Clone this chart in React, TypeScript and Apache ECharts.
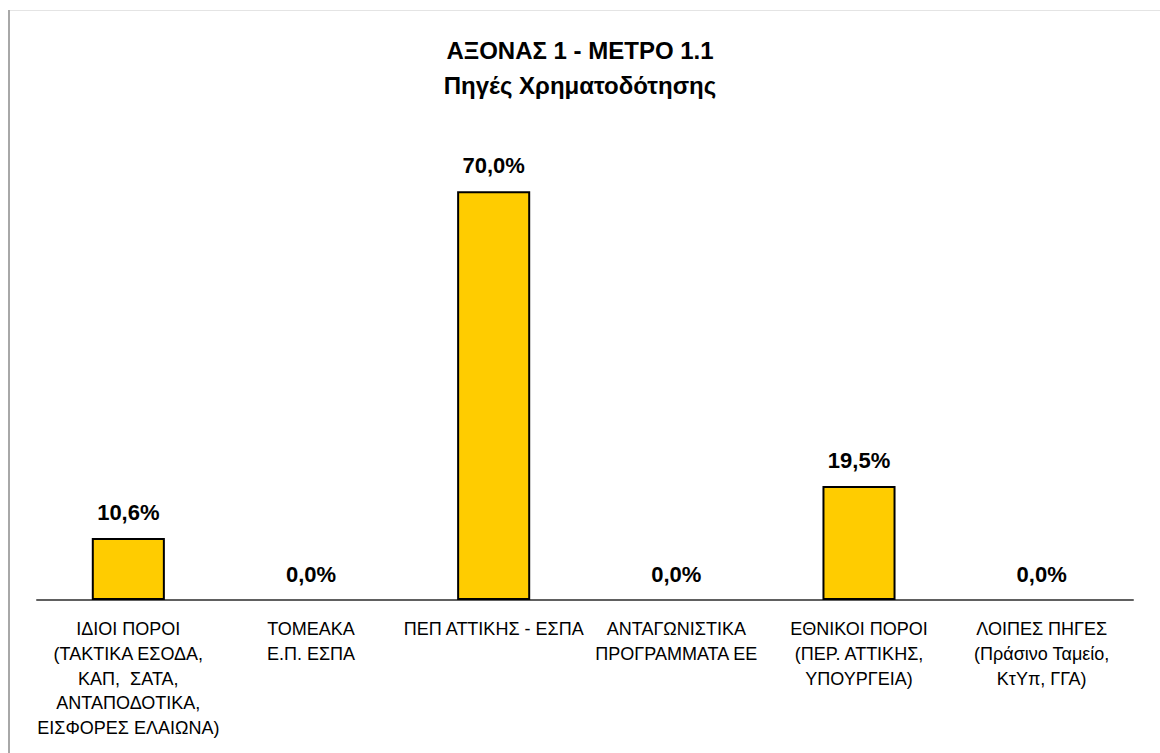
import React, { useEffect, useRef } from "react";
import * as echarts from "echarts";

const categories = [
  "ΙΔΙΟΙ ΠΟΡΟΙ\n(ΤΑΚΤΙΚΑ ΕΣΟΔΑ,\nΚΑΠ,  ΣΑΤΑ,\nΑΝΤΑΠΟΔΟΤΙΚΑ,\nΕΙΣΦΟΡΕΣ ΕΛΑΙΩΝΑ)",
  "ΤΟΜΕΑΚΑ\nΕ.Π. ΕΣΠΑ",
  "ΠΕΠ ΑΤΤΙΚΗΣ - ΕΣΠΑ",
  "ΑΝΤΑΓΩΝΙΣΤΙΚΑ\nΠΡΟΓΡΑΜΜΑΤΑ ΕΕ",
  "ΕΘΝΙΚΟΙ ΠΟΡΟΙ\n(ΠΕΡ. ΑΤΤΙΚΗΣ,\nΥΠΟΥΡΓΕΙΑ)",
  "ΛΟΙΠΕΣ ΠΗΓΕΣ\n(Πράσινο Ταμείο,\nΚτΥπ, ΓΓΑ)",
];
const values = [10.6, 0.0, 70.0, 0.0, 19.5, 0.0];
const titleLines = ["ΑΞΟΝΑΣ 1 - ΜΕΤΡΟ 1.1", "Πηγές Χρηματοδότησης"];

const FONT = "'Liberation Sans', 'Noto Sans', sans-serif";

export default function App() {
  const ref = useRef<HTMLDivElement>(null);
  useEffect(() => {
    if (!ref.current) return;
    const chart = echarts.init(ref.current, undefined, { renderer: "svg" });
    chart.setOption({
      animation: false,
      backgroundColor: "#ffffff",
      title: {
        text: titleLines.join("\n"),
        left: "center",
        top: 28,
        textStyle: {
          fontFamily: FONT,
          fontSize: 24,
          fontWeight: "bold",
          color: "#000000",
          lineHeight: 35,
        },
      },
      graphic: [
        {
          type: "line",
          shape: { x1: 8, y1: 10.5, x2: 1160, y2: 10.5 },
          style: { stroke: "#e4e4e4", lineWidth: 1 },
        },
        {
          type: "line",
          shape: { x1: 9, y1: 10, x2: 9, y2: 753 },
          style: { stroke: "#a8a8a8", lineWidth: 2 },
        },
      ],
      grid: { left: 37, right: 27, top: 16, bottom: 153, containLabel: false },
      xAxis: {
        type: "category",
        data: categories,
        axisLine: { show: true, lineStyle: { color: "#606060", width: 2 } },
        axisTick: { show: false },
        axisLabel: {
          interval: 0,
          margin: 17,
          fontFamily: FONT,
          fontSize: 18,
          color: "#000000",
          lineHeight: 24.6,
          verticalAlign: "top",
        },
      },
      yAxis: {
        type: "value",
        min: 0,
        max: 100,
        show: false,
        splitLine: { show: false },
      },
      series: [
        {
          type: "bar",
          data: values.map((v) =>
            v === 0 ? { value: v, itemStyle: { borderWidth: 0 } } : v
          ),
          barWidth: "40%",
          itemStyle: { color: "#FFCC00", borderColor: "#000000", borderWidth: 2 },
          label: {
            show: true,
            position: "top",
            distance: 15,
            fontFamily: FONT,
            fontSize: 22,
            fontWeight: "bold",
            color: "#000000",
            formatter: (p: any) => p.value.toFixed(1).replace(".", ",") + "%",
          },
        },
      ],
    });
    return () => chart.dispose();
  }, []);
  return (
    <div
      ref={ref}
      style={{ position: "fixed", left: 0, top: 0, width: 1160, height: 753 }}
    />
  );
}
